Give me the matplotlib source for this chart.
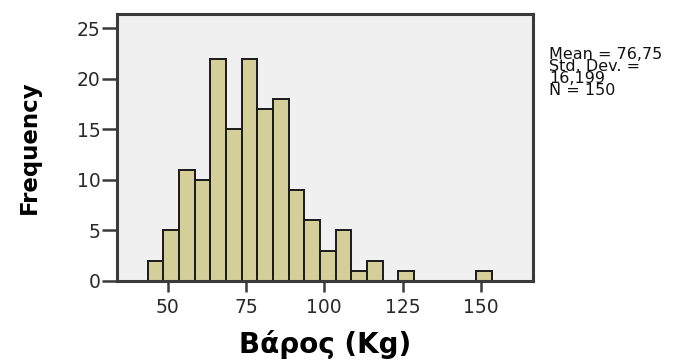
import matplotlib
matplotlib.use("Agg")
import matplotlib.pyplot as plt

# histogram bins (left edges, width 5 kg) and counts
bin_left = [43.6, 48.6, 53.6, 58.6, 63.6, 68.6, 73.6, 78.6, 83.6, 88.6,
            93.6, 98.6, 103.6, 108.6, 113.6, 123.6, 148.6]
counts = [2, 5, 11, 10, 22, 15, 22, 17, 18, 9, 6, 3, 5, 1, 2, 1, 1]
bin_width = 5.0

x_ticks = [50, 75, 100, 125, 150]
y_ticks = [0, 5, 10, 15, 20, 25]
stats_text = "Mean = 76,75\nStd. Dev. =\n16,199\nN = 150"

fig = plt.figure(figsize=(6.92, 3.61), dpi=100)
ax = fig.add_axes([0.169, 0.222, 0.601, 0.739])
ax.set_facecolor("#f0f0f0")

ax.bar(bin_left, counts, width=bin_width, align="edge",
       color="#d4cf98", edgecolor="#1a1a1a", linewidth=1.4)

ax.set_xlim(33.8, 166.6)
ax.set_ylim(0, 26.4)
ax.set_xticks(x_ticks)
ax.set_yticks(y_ticks)
ax.tick_params(direction="out", width=1.8, colors="#3a3a3a",
               labelsize=13.5, labelcolor="#2a2a2a")
ax.tick_params(axis="y", length=11, pad=1)
ax.tick_params(axis="x", length=8, pad=4)

for side in ["left", "bottom", "right", "top"]:
    ax.spines[side].set_linewidth(2.2)
    ax.spines[side].set_color("#3a3a3a")

ax.set_ylabel("Frequency", fontsize=16.5, fontweight="bold", labelpad=26)
ax.set_xlabel("Βάρος (Kg)", fontsize=20, fontweight="bold", labelpad=9.5)

fig.text(0.793, 0.87, stats_text, fontsize=11.5, va="top", ha="left",
         linespacing=0.76, color="#111111")

fig.savefig("out.png", dpi=100)
